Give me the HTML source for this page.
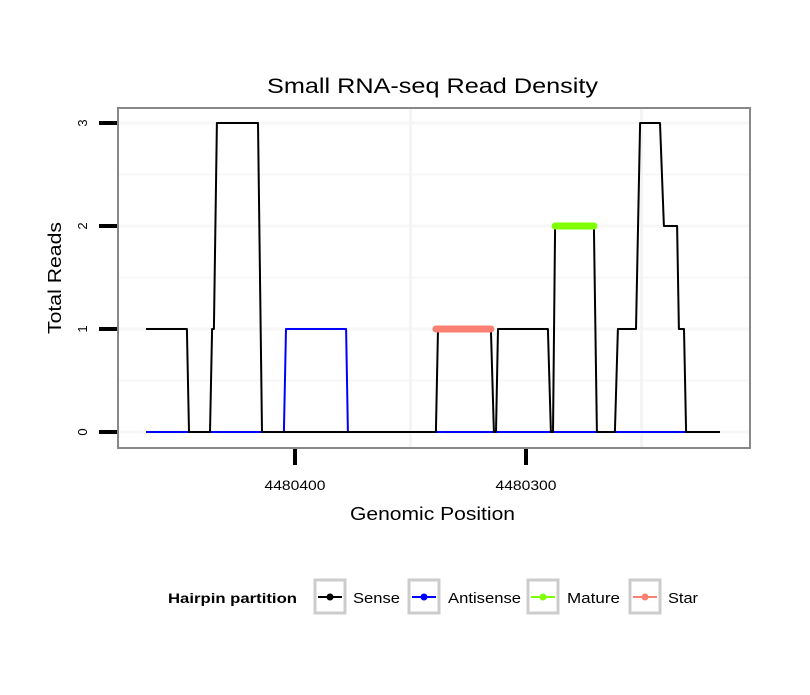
<!DOCTYPE html>
<html><head><meta charset="utf-8"><style>
body{margin:0;background:#fff}
svg text{font-family:"Liberation Sans",sans-serif}
</style></head><body>
<svg id="chart" width="810" height="690">
<rect width="810" height="690" fill="#fff"/>
<text x="267" y="93" font-size="21" textLength="331" lengthAdjust="spacingAndGlyphs">Small RNA-seq Read Density</text>
<g id="grid"></g>
<g id="series"></g>
<rect x="118" y="108" width="632" height="340" fill="none" stroke="#888" stroke-width="2"/>
<g id="axes"></g>
<text x="350" y="520" font-size="18" textLength="165" lengthAdjust="spacingAndGlyphs">Genomic Position</text>
<text transform="translate(61,334) rotate(-90)" font-size="18" textLength="112" lengthAdjust="spacingAndGlyphs">Total Reads</text>
<g id="legend">
<text x="168" y="603" font-size="14" font-weight="bold" textLength="129" lengthAdjust="spacingAndGlyphs">Hairpin partition</text>
</g>
</svg>
<script>
const senseX=[64.5,46.8,45.9,36.8,35.9,35.1,33.8,16.0,14.3,-61.0,-61.9,-84.8,-86.1,-87.0,-87.9,-109.5,-110.8,-111.7,-112.6,-129.4,-130.7,-138.5,-139.8,-147.6,-149.4,-158.0,-159.7,-165.4,-166.2,-168.4,-169.3,-184.0];
const senseY=[1,1,0,0,1,1,3,3,0,0,1,1,0,0,1,1,0,0,2,2,0,0,1,1,3,3,2,2,1,1,0,0];
const antiX=[64.5,4.8,3.9,-22.1,-22.9,-169.3];
const antiY=[0,0,1,1,0,0];
const matureX=[-112.6,-129.4];
const matureY=[2,2];
const starX=[-61.0,-84.8];
const starY=[1,1];
const xBase=4480400;
const xTicks=[4480400,4480300];
const xGrid=[4480350,4480250];
const yTicks=[0,1,2,3];
const NS="http://www.w3.org/2000/svg";
function sx(off){return 295-off*2.31;}
function sxp(p){return sx(p-xBase);}
function sy(v){return 432-v*103;}
function mk(tag,attrs,parent){const e=document.createElementNS(NS,tag);for(const k in attrs)e.setAttribute(k,attrs[k]);parent.appendChild(e);return e;}
const grid=document.getElementById('grid'),series=document.getElementById('series'),axes=document.getElementById('axes'),legend=document.getElementById('legend');
for(let v=0;v<=3;v+=0.5){const l=mk('line',{x1:118,x2:750,y1:sy(v),y2:sy(v),stroke:'#f7f7f7','stroke-width':v%1?2:3},grid);

}
xGrid.forEach(p=>{const x=sxp(p);const l=mk('line',{x1:x,x2:x,y1:108,y2:448,stroke:'#f4f4f4','stroke-width':3},grid);

});
function path(xs,ys,color,w,name){const d=xs.map((x,i)=>(i?'L':'M')+sx(x).toFixed(1)+','+sy(ys[i]).toFixed(1)).join('');const e=mk('path',{d:d,fill:'none',stroke:color,'stroke-width':w,'stroke-linecap':w>3?'round':'butt','stroke-linejoin':'round'},series);

}
path(antiX,antiY,'#0000ff',2,'antisense-line');
path(senseX,senseY,'#000',2,'sense-line');
path(starX,starY,'#fa8072',7,'star-line');
path(matureX,matureY,'#7fff00',7,'mature-line');
yTicks.forEach(v=>{const t=mk('line',{x1:99,x2:117,y1:sy(v),y2:sy(v),stroke:'#000','stroke-width':4},axes);


const tx=mk('text',{transform:`translate(87,${sy(v)}) rotate(-90)`,'font-size':13,'text-anchor':'middle'},axes);tx.textContent=v;

});
xTicks.forEach(p=>{const x=sxp(p);const t=mk('line',{x1:x,x2:x,y1:449,y2:465,stroke:'#000','stroke-width':4},axes);


const tx=mk('text',{x:x-30.5,y:490,'font-size':14,textLength:61,lengthAdjust:'spacingAndGlyphs'},axes);tx.textContent=p;

});
const legNames=['Sense','Antisense','Mature','Star'],legColors=['#000','#0000ff','#7fff00','#fa8072'],legX=[315,409,528,630],legTX=[353,448,567,668],legTW=[47,73,53,30];
legNames.forEach((n,i)=>{const g=mk('g',{},legend);


const x=legX[i];mk('rect',{x:x,y:580,width:30,height:33,fill:'#fff',stroke:'#ccc','stroke-width':3},g);
mk('line',{x1:x+3,x2:x+27,y1:597,y2:597,stroke:legColors[i],'stroke-width':2},g);
mk('circle',{cx:x+15,cy:597,r:3.5,fill:legColors[i]},g);
const t=mk('text',{x:legTX[i],y:603,'font-size':15,textLength:legTW[i],lengthAdjust:'spacingAndGlyphs'},g);t.textContent=n;});
</script>
</body></html>
